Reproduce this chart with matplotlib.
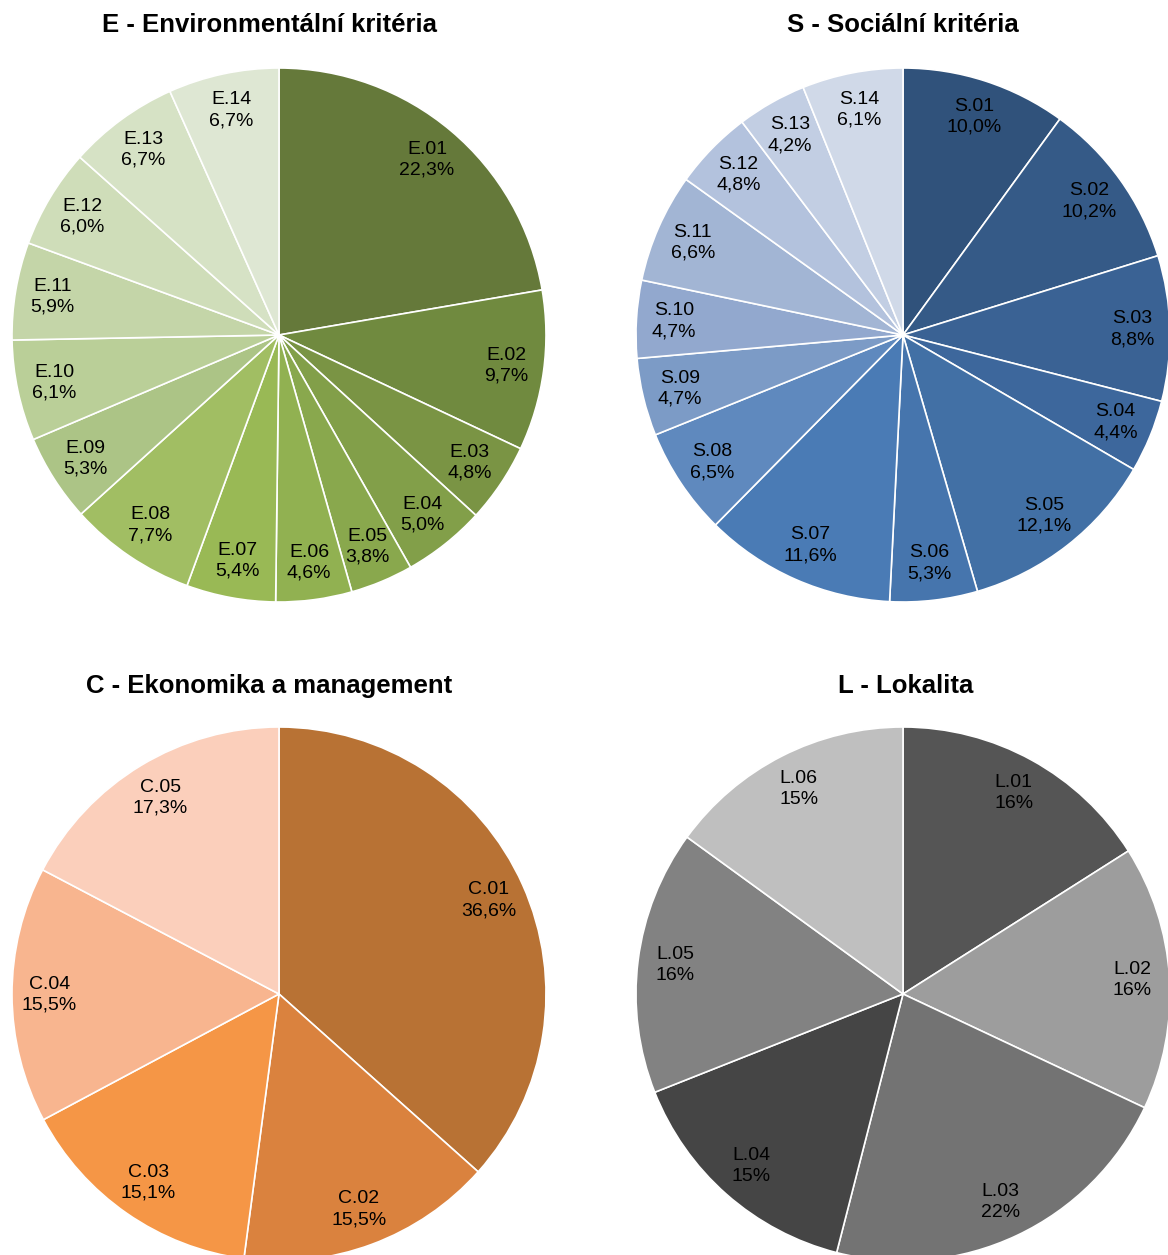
import matplotlib.pyplot as plt

plt.rcParams['font.family'] = ['Liberation Sans', 'DejaVu Sans']

# E - Environmental
e_labels = ['E.01', 'E.02', 'E.03', 'E.04', 'E.05', 'E.06', 'E.07',
            'E.08', 'E.09', 'E.10', 'E.11', 'E.12', 'E.13', 'E.14']
e_values = [22.3, 9.7, 4.8, 5.0, 3.8, 4.6, 5.4, 7.7, 5.3, 6.1, 5.9, 6.0, 6.7, 6.7]
e_colors = ['#65793A', '#708A3F', '#7A9444', '#829F49', '#89A84D', '#91B151', '#99B955',
            '#A1BE63', '#ACC486', '#BACF98', '#C4D5A8', '#CFDDB9', '#D6E2C5', '#DEE7D3']

# S - Social
s_labels = ['S.01', 'S.02', 'S.03', 'S.04', 'S.05', 'S.06', 'S.07',
            'S.08', 'S.09', 'S.10', 'S.11', 'S.12', 'S.13', 'S.14']
s_values = [10.0, 10.2, 8.8, 4.4, 12.1, 5.3, 11.6, 6.5, 4.7, 4.7, 6.6, 4.8, 4.2, 6.1]
s_colors = ['#30527B', '#355A87', '#3A6294', '#3D679C', '#4270A5', '#4675AD', '#4A7BB5',
            '#5F89BE', '#7C9BC6', '#92A8CE', '#A2B5D4', '#B3C2DD', '#C2CEE3', '#D0D9E8']

# C - Economy
c_labels = ['C.01', 'C.02', 'C.03', 'C.04', 'C.05']
c_values = [36.6, 15.5, 15.1, 15.5, 17.3]
c_colors = ['#B87234', '#DA823E', '#F59646', '#F8B58F', '#FBCFBB']

# L - Location
l_labels = ['L.01', 'L.02', 'L.03', 'L.04', 'L.05', 'L.06']
l_values = [16, 16, 22, 15, 16, 15]
l_colors = ['#555555', '#9D9D9D', '#737373', '#454545', '#828282', '#BFBFBF']

W, H = 1168, 1255
fig = plt.figure(figsize=(W / 100, H / 100), dpi=100)
R = 267


def draw_pie(cx, cy, values, labels, colors, title, tx, ty, decimals=True):
    ax = fig.add_axes([(cx - R) / W, (H - cy - R) / H, 2 * R / W, 2 * R / H])
    if decimals:
        texts = [f'{l}\n' + f'{v:.1f}'.replace('.', ',') + '%' for l, v in zip(labels, values)]
    else:
        texts = [f'{l}\n{v:.0f}%' for l, v in zip(labels, values)]
    wedges, txts = ax.pie(values, labels=texts, colors=colors, startangle=90,
                          counterclock=False, labeldistance=0.86, radius=1,
                          wedgeprops=dict(edgecolor='white', linewidth=1.2),
                          textprops=dict(fontsize=14, color='black', linespacing=1.3))
    for t in txts:
        t.set_ha('center')
        t.set_va('center')
    ax.set_xlim(-1, 1)
    ax.set_ylim(-1, 1)
    ax.set_aspect('equal')
    ax.axis('off')
    fig.text(tx / W, 1 - ty / H, title, ha='center', va='center',
             fontsize=18.5, fontweight='bold')


draw_pie(279, 335, e_values, e_labels, e_colors, 'E - Environmentální kritéria', 270, 25)
draw_pie(903, 335, s_values, s_labels, s_colors, 'S - Sociální kritéria', 903, 25)
draw_pie(279, 994, c_values, c_labels, c_colors, 'C - Ekonomika a management', 269, 686)
draw_pie(903, 994, l_values, l_labels, l_colors, 'L - Lokalita', 906, 686, decimals=False)

fig.savefig('out.png', dpi=100)
